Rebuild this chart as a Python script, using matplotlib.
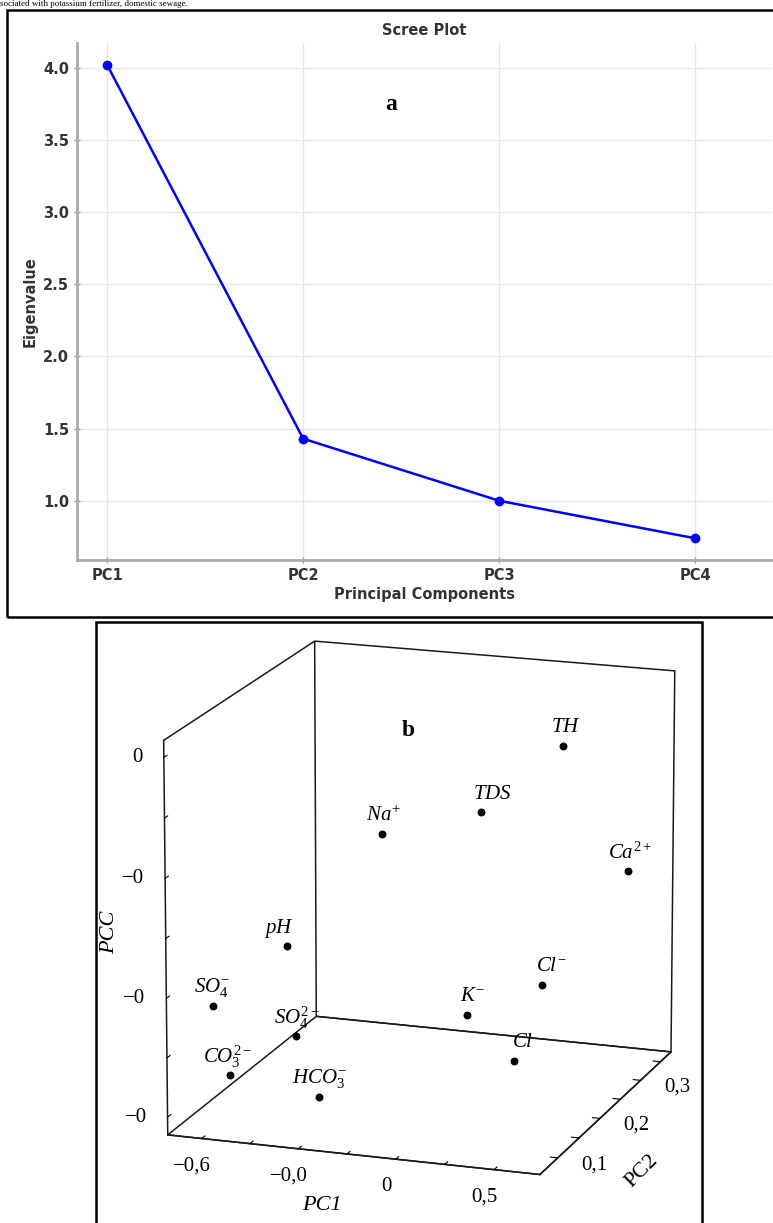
import numpy as np
import matplotlib
matplotlib.use('Agg')
import matplotlib.pyplot as plt
from matplotlib.patches import Rectangle
from mpl_toolkits.mplot3d import proj3d

plt.rcParams['font.family'] = ['Liberation Serif', 'DejaVu Serif']
plt.rcParams['mathtext.fontset'] = 'custom'
plt.rcParams['mathtext.rm'] = 'Liberation Serif'
plt.rcParams['mathtext.it'] = 'Liberation Serif:italic'

# scree plot
components = ['PC1', 'PC2', 'PC3', 'PC4']
eigenvalues = [4.02, 1.43, 1.00, 0.74]
eig_ticks = [1.0, 1.5, 2.0, 2.5, 3.0, 3.5, 4.0]

# loading plot
var_labels = [r'$TH$', r'$TDS$', r'$Na^{+}$', r'$Ca^{2+}$', r'$pH$', r'$SO_4^{-}$',
              r'$SO_4^{2-}$', r'$CO_3^{2-}$', r'$HCO_3^{-}$', r'$Cl^{-}$', r'$K^{-}$', r'$Cl$']
pc1 = [0.483, 0.200, -0.214, 0.649, -0.556, -0.676, -0.704, -0.672, -0.319, 0.400, 0.200, 0.455]
pc2 = [0.281, 0.250, 0.250, 0.345, 0.218, 0.122, 0.313, 0.154, 0.165, 0.281, 0.218, 0.186]
pcc = [-0.058, -0.164, -0.216, -0.302, -0.402, -0.449, -0.622, -0.587, -0.617, -0.469, -0.489, -0.537]
# label shift (points) sideways from each dot
label_dx = [2, 8, 1, 2, -6, -1, 0, -2, 0, 7, 4, 6]

pc1_ticks = [-0.6, -0.4, -0.2, 0.0, 0.2, 0.4, 0.6]
pc1_ticklabels = ['\u22120,6', '', '\u22120,0', '', '0', '', '0,5']
pc2_ticks = [0.10, 0.15, 0.20, 0.25, 0.30, 0.35]
pc2_ticklabels = ['0,1', '', '0,2', '', '0,3', '']
pcc_ticks = [-0.6, -0.5, -0.4, -0.3, -0.2, -0.1, 0.0]
pcc_ticklabels = ['\u22120', '', '\u22120', '', '\u22120', '', '0']

W, H = 773, 1223
fig = plt.figure(figsize=(W / 100, H / 100), dpi=100)

# line of body text above the figure
fig.text(0.0, 1 - 0.5 / H, 'sociated with potassium fertilizer, domestic sewage.',
         fontsize=6.5, va='top', ha='left', color='black')

# ---- (a) scree plot
sans = dict(fontfamily='DejaVu Sans', fontweight='bold', fontsize=10.5, color='#333333')
ax = fig.add_axes([77 / W, 1 - 560 / H, (W - 78) / W, (560 - 43) / H])
x = np.arange(len(components))
ax.plot(x, eigenvalues, color='blue', marker='o', ms=6, lw=1.8, zorder=3)
ax.set_xlim(-0.153, 3.39)
ax.set_ylim(0.59, 4.17)
ax.set_xticks(x, components, **sans)
ax.set_yticks(eig_ticks, [f'{v:.1f}' for v in eig_ticks], **sans)
ax.grid(True, color='#e6e6e6', lw=1)
ax.tick_params(direction='inout', length=5, width=1, color='#999999', pad=3)
for s in ['top', 'right']:
    ax.spines[s].set_visible(False)
for s in ['left', 'bottom']:
    ax.spines[s].set_color('#aaaaaa')
    ax.spines[s].set_linewidth(2)
ax.set_title('Scree Plot', pad=6, **sans)
ax.set_xlabel('Principal Components', labelpad=3, **sans)
ax.set_ylabel('Eigenvalue', labelpad=4, **sans)
fig.text(391 / W, 1 - 105 / H, 'a', fontsize=17, fontweight='bold', ha='center', va='center')

# ---- (b) loadings in 3D
ax3 = fig.add_axes([116 / W, 15 / H, 600 / W, 0.49], projection='3d')
ax3.set_facecolor('none')
ax3.set_proj_type('persp', focal_length=2.2)
ax3.view_init(elev=15.8, azim=-70.9)
ax3.set_box_aspect((1, 1.112, 1.04), zoom=1.143)
ax3.scatter(pc1, pc2, pcc, color='black', s=22, depthshade=False)
ax3.set_xlim(-0.742, 0.785)
ax3.set_ylim(0.0587, 0.377)
ax3.set_zlim(-0.630, 0.028)
# tick marks from mplot3d, label text placed by hand below
ax3.set_xticks(pc1_ticks, [''] * len(pc1_ticks))
ax3.set_yticks(pc2_ticks, [''] * len(pc2_ticks))
ax3.set_zticks(pcc_ticks, [''] * len(pcc_ticks))
ax3.grid(False)
for axis in (ax3.xaxis, ax3.yaxis, ax3.zaxis):
    axis.pane.set_alpha(None)
    axis.pane.set_facecolor((1, 1, 1, 0))
    axis.pane.set_edgecolor('#1a1a1a')
    axis.pane.set_linewidth(1.1)
    axis.line.set_color('#1a1a1a')
    axis.line.set_linewidth(1.1)
    axis._axinfo['tick']['inward_factor'] = 0.0
    axis._axinfo['tick']['outward_factor'] = 0.25
ax3.zaxis.set_ticks_position('lower')
fig.text(408 / W, 1 - 731 / H, 'b', fontsize=17, fontweight='bold', ha='center', va='center')

# panel frames
fig.add_artist(Rectangle((7 / W, 1 - 617 / H), 1.0, (617 - 10) / H,
                         transform=fig.transFigure, fill=False, lw=1.8, ec='black'))
fig.add_artist(Rectangle((96 / W, -0.01), (702 - 96) / W, 0.01 + 1 - 622 / H,
                         transform=fig.transFigure, fill=False, lw=1.8, ec='black'))

# texts in the 3D panel, anchored at projected points
fig.canvas.draw()
M = ax3.get_proj()
x0, x1 = ax3.get_xlim3d()
y0, y1 = ax3.get_ylim3d()
z0, z1 = ax3.get_zlim3d()


def place(s, p, off, **kw):
    xp, yp, _ = proj3d.proj_transform(*p, M)
    ax3.annotate(s, (xp, yp), xycoords='data', xytext=off, textcoords='offset points',
                 annotation_clip=False, **kw)


for lab, a, b, c, dx in zip(var_labels, pc1, pc2, pcc, label_dx):
    place(lab, (a, b, c), (dx, 13), ha='center', va='center', fontsize=15)
for v, s in zip(pc1_ticks, pc1_ticklabels):
    if s:
        place(s, (v, y0, z0), (-7, -19.5), ha='center', va='center', fontsize=15)
for v, s in zip(pc2_ticks, pc2_ticklabels):
    if s:
        place(s, (x1, v, z0), (26.5, -5), ha='center', va='center', fontsize=15)
for v, s in zip(pcc_ticks, pcc_ticklabels):
    if s:
        place(s, (x0, y0, v), (-15, 0), ha='right', va='center', fontsize=15)
place('PC1', ((x0 + x1) / 2, y0, z0), (-21.5, -36.5), ha='center', va='center',
      fontsize=16, fontstyle='italic')
place('PC2', (x1, (y0 + y1) / 2, z0), (24.5, -43), ha='center', va='center',
      fontsize=16, rotation=45)
place('PCC', (x0, y0, (z0 + z1) / 2), (-40.5, 5), ha='center', va='center',
      fontsize=16, fontstyle='italic', rotation=90)

fig.savefig('out.png', dpi=100)
